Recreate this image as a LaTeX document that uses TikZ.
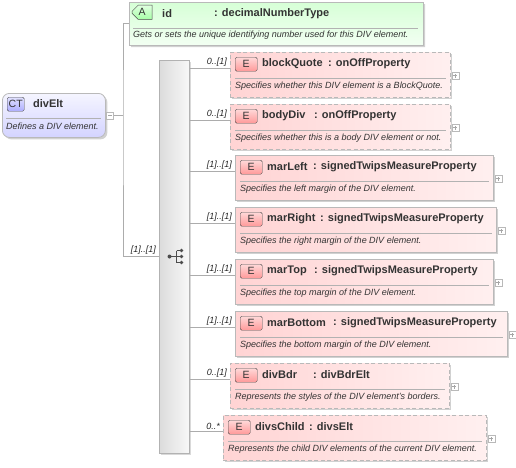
\documentclass[tikz,border=0pt]{standalone}
\usepackage{fontspec}
\setmainfont{Liberation Sans}
\usetikzlibrary{shapes.misc,shadows}

\tikzset{
  conn/.style={draw=gray!65,line width=0.8pt},
  sepline/.style={draw=gray!60,line width=0.6pt},
  hdr/.style={font=\fontsize{11}{13}\selectfont\bfseries,text=black!80,inner sep=0pt,anchor=west},
  desc/.style={font=\fontsize{9}{10}\selectfont\itshape,text=black!80,inner sep=0pt,anchor=west},
  card/.style={font=\fontsize{9}{10}\selectfont\itshape,text=black!85,inner sep=0pt},
  badge/.style={draw=gray!60!black,rounded corners=1.5pt,minimum height=14pt,inner sep=0pt,
    font=\fontsize{10.5}{12}\selectfont,text=black!80},
  elembox/.style={draw=gray!55,line width=0.8pt,left color=red!17,right color=red!6,
    drop shadow={shadow xshift=2pt,shadow yshift=-2pt,fill=black,opacity=.18}},
  plusbox/.style={minimum size=7pt,inner sep=0pt,draw=gray!55,fill=white,
    path picture={\draw[gray!70] ([xshift=1.5pt]path picture bounding box.west) -- ([xshift=-1.5pt]path picture bounding box.east)
      ([yshift=1.5pt]path picture bounding box.south) -- ([yshift=-1.5pt]path picture bounding box.north);}},
  minusbox/.style={minimum size=7pt,inner sep=0pt,draw=gray!55,fill=white,
    path picture={\draw[gray!70] ([xshift=1.5pt]path picture bounding box.west) -- ([xshift=-1.5pt]path picture bounding box.east);}}
}

\begin{document}
\begin{tikzpicture}[x=1pt,y=-1pt]
  \useasboundingbox (0,0) rectangle (516,467);

  % complex type divElt
  \node[draw=gray!55,line width=0.8pt,rounded corners=7pt,top color=blue!4,bottom color=blue!17,
    drop shadow={shadow xshift=2pt,shadow yshift=-2pt,fill=black,opacity=.18},
    anchor=north west,minimum width=103pt,minimum height=44pt] (ct) at (2,93) {};
  \node[badge,top color=blue!12,bottom color=blue!32,anchor=north west,minimum width=17pt] (ctb) at (7,97) {CT};
  \node[hdr] (ctn) at (33,104) {divElt};
  \draw[sepline] (6,118) -- (101,118);
  \node[desc] (ctd) at (6,126.5) {Defines a DIV element.};
  \node[minusbox] (ctm) at (110,115.5) {};

  % attribute id
  \node[chamfered rectangle,chamfered rectangle corners={north west,south west},chamfered rectangle xsep=5pt,
    draw=gray!55,line width=0.8pt,top color=green!16,bottom color=green!5,
    drop shadow={shadow xshift=2pt,shadow yshift=-2pt,fill=black,opacity=.18},
    anchor=north west,minimum width=294pt,minimum height=43pt,inner sep=0pt] (id) at (129,2) {};
  \node[badge,chamfered rectangle,chamfered rectangle corners={north west,south west},chamfered rectangle xsep=2.5pt,
    rounded corners=0pt,top color=green!12,bottom color=green!35,anchor=north west,minimum width=20pt,minimum height=13pt] (idb) at (135,8) {A};
  \node[hdr] (idn) at (162,14) {id};
  \node[hdr] (idt) at (214,14) {: decimalNumberType};
  \draw[sepline] (133,28) -- (418,28);
  \node[desc] (idd) at (133,35.5) {Gets or sets the unique identifying number used for this DIV element.};

  % sequence
  \node[draw=gray!60,line width=0.8pt,left color=gray!28,right color=gray!5,
    drop shadow={shadow xshift=2pt,shadow yshift=-2pt,fill=black,opacity=.15},
    anchor=north west,minimum width=30pt,minimum height=393pt] (seq) at (159,60) {};
  \draw[black!70,line width=0.8pt] (169.5,256.5) -- (176.5,256.5) (176.5,250.5) -- (176.5,262.5)
    (176.5,250.5) -- (181.5,250.5) (176.5,256.5) -- (181.5,256.5) (176.5,262.5) -- (181.5,262.5);
  \fill[black!70] (169.5,256.5) circle (2pt);
  \foreach \yy in {250.5,256.5,262.5}
    \fill[black!70] (181.5,\yy) circle (1.9pt);

  \coordinate (split) at (123,115.5);
  \coordinate (idc) at ([yshift=-21pt]id.north west);
  \coordinate (seqc) at (seq.west |- 0,256.5);
  \draw[conn] (ctm.east) -- (split);
  \draw[conn] (idc) -| (split) |- (seqc);
  \node[card,anchor=south east] (seql) at ([xshift=-3pt,yshift=1.5pt]seqc) {[1]..[1]};

  % elements
  \foreach \n/\x/\y/\r/\cx/\st/\nm/\ty/\lab/\ds in {
    1/230/52/450/328/1/blockQuote/onOffProperty/0..[1]/Specifies whether this DIV element is a BlockQuote.,
    2/230/104/450/314/1/bodyDiv/onOffProperty/0..[1]/Specifies whether this is a body DIV element or not.,
    3/235/155/493/313/0/marLeft/signedTwipsMeasureProperty/[1]..[1]/Specifies the left margin of the DIV element.,
    4/235/207/496/320/0/marRight/signedTwipsMeasureProperty/[1]..[1]/Specifies the right margin of the DIV element.,
    5/235/259/493/314/0/marTop/signedTwipsMeasureProperty/[1]..[1]/Specifies the top margin of the DIV element.,
    6/235/311/507/333/0/marBottom/signedTwipsMeasureProperty/[1]..[1]/Specifies the bottom margin of the DIV element.,
    7/230/363/449/313/1/divBdr/divBdrElt/0..[1]/Represents the styles of the DIV element's borders.,
    8/223/415/486/309/1/divsChild/divsElt/0..*/Represents the child DIV elements of the current DIV element.}{
    \ifnum\st=1 \tikzset{bxline/.style={dash pattern=on 4pt off 2.5pt}}\else\tikzset{bxline/.style={solid}}\fi
    \node[elembox,bxline,anchor=north west,minimum width={(\r-\x)*1pt},minimum height=45pt] (e\n) at (\x,\y) {};
    \node[badge,top color=red!15,bottom color=red!40,anchor=north west,minimum width=22pt] (b\n)
      at ([xshift=5pt,yshift=-5pt]e\n.north west) {E};
    \node[hdr] (n\n) at ([xshift=32pt,yshift=-12pt]e\n.north west) {\nm};
    \node[hdr] (t\n) at (\cx,\y+12) {: \ty};
    \draw[sepline] ([xshift=5pt,yshift=-26pt]e\n.north west) -- ([xshift=-5pt,yshift=-26pt]e\n.north east);
    \node[desc] (d\n) at ([xshift=5pt,yshift=-34.5pt]e\n.north west) {\ds};
    \node[plusbox] (p\n) at ([xshift=4.5pt,yshift=-23.5pt]e\n.north east) {};
    \coordinate (c\n) at ([yshift=-16pt]e\n.north west);
    \draw[conn] (seq.east |- c\n) -- (c\n);
    \node[card,anchor=south east] (l\n) at ([xshift=-3pt,yshift=1.5pt]c\n) {\lab};
  }
\end{tikzpicture}
\end{document}
